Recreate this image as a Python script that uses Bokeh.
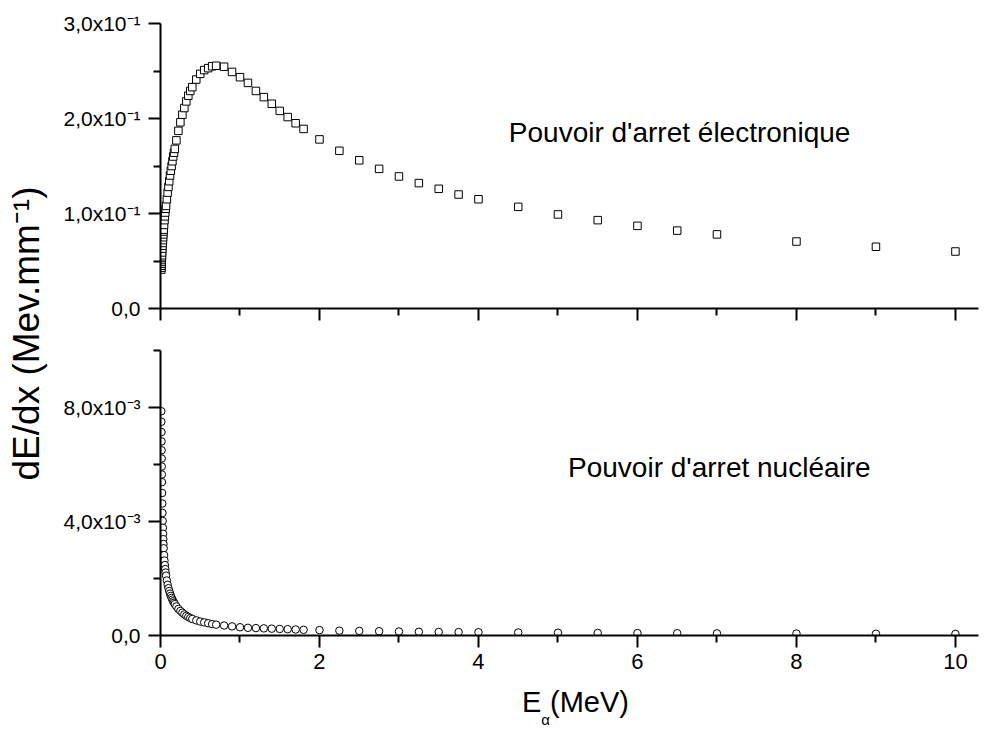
import math

from bokeh.embed import file_html
from bokeh.layouts import column, row
from bokeh.models import Div, FixedTicker, Label, Range1d
from bokeh.plotting import figure
from bokeh.resources import INLINE

# Alpha-particle energy grid (MeV)
energy_mev = [
    0.010, 0.011, 0.012, 0.013, 0.014, 0.015, 0.016, 0.017, 0.018,
    0.020, 0.0225, 0.025, 0.0275, 0.030, 0.0325, 0.035, 0.0375, 0.040,
    0.045, 0.050, 0.055, 0.060, 0.065, 0.070, 0.080, 0.090,
    0.100, 0.110, 0.120, 0.130, 0.140, 0.150, 0.160, 0.170, 0.180,
    0.200, 0.225, 0.250, 0.275, 0.300, 0.325, 0.350, 0.375, 0.400,
    0.450, 0.500, 0.550, 0.600, 0.650, 0.700, 0.800, 0.900,
    1.0, 1.1, 1.2, 1.3, 1.4, 1.5, 1.6, 1.7, 1.8,
    2.0, 2.25, 2.5, 2.75, 3.0, 3.25, 3.5, 3.75, 4.0,
    4.5, 5.0, 5.5, 6.0, 6.5, 7.0, 8.0, 9.0, 10.0,
]

# Electronic stopping power (MeV/mm)
s_electronic = [
    0.041, 0.043, 0.045, 0.047, 0.049, 0.051, 0.053, 0.054, 0.056,
    0.059, 0.063, 0.066, 0.069, 0.072, 0.075, 0.078, 0.081, 0.083,
    0.088, 0.093, 0.097, 0.101, 0.105, 0.108, 0.115, 0.122,
    0.128, 0.134, 0.140, 0.145, 0.150, 0.155, 0.160, 0.164, 0.168,
    0.177, 0.187, 0.196, 0.204, 0.211, 0.218, 0.224, 0.229, 0.233,
    0.241, 0.247, 0.251, 0.253, 0.255, 0.2555, 0.2545, 0.249,
    0.2435, 0.2375, 0.229, 0.2225, 0.2155, 0.208, 0.2015, 0.195, 0.189,
    0.178, 0.166, 0.156, 0.147, 0.139, 0.132, 0.126, 0.120, 0.115,
    0.107, 0.099, 0.093, 0.087, 0.082, 0.078, 0.0705, 0.065, 0.060,
]

# Nuclear stopping power (MeV/mm)
s_nuclear = [
    0.00787, 0.00750, 0.00714, 0.00681, 0.00650, 0.00621, 0.00593, 0.00565, 0.00538,
    0.00500, 0.00463, 0.00430, 0.00402, 0.00378, 0.00357, 0.00338, 0.00321, 0.00306,
    0.00282, 0.00263, 0.00247, 0.00233, 0.00221, 0.00210, 0.00193, 0.00178,
    0.00166, 0.00156, 0.00147, 0.00139, 0.00132, 0.00126, 0.00120, 0.00115, 0.00110,
    0.00102, 0.00093, 0.00086, 0.00080, 0.00074, 0.00069, 0.00065, 0.00061, 0.00058,
    0.00053, 0.00049, 0.00046, 0.00043, 0.00040, 0.00038, 0.00035, 0.00032,
    0.00029, 0.00027, 0.00026, 0.00025, 0.00024, 0.00023, 0.00022, 0.00021, 0.00020,
    0.00019, 0.00017, 0.00016, 0.00015, 0.00014, 0.00013, 0.000125, 0.00012, 0.000115,
    0.000105, 0.000097, 0.00009, 0.000084, 0.000079, 0.000075, 0.000068, 0.000062, 0.000057,
]

x_ticks = [0, 2, 4, 6, 8, 10]
x_minor = [1, 3, 5, 7, 9]
x_labels = ["0", "2", "4", "6", "8", "10"]

top_ticks = [0.0, 0.1, 0.2, 0.3]
top_minor = [0.05, 0.15, 0.25]
top_labels = ["0,0", "1,0x10⁻¹", "2,0x10⁻¹", "3,0x10⁻¹"]

bottom_ticks = [0.0, 0.004, 0.008]
bottom_minor = [0.002, 0.006, 0.010]
bottom_labels = ["0,0", "4,0x10⁻³", "8,0x10⁻³"]

FONT = "Liberation Sans"
PANEL_W = 936
LEFT = 110

x_range = Range1d(0, 10.29)


def style_axes(p):
    for ax in (p.xaxis[0], p.yaxis[0]):
        ax.axis_line_width = 2
        ax.axis_line_color = "black"
        ax.major_tick_line_width = 2
        ax.minor_tick_line_width = 2
        ax.major_tick_line_color = "black"
        ax.minor_tick_line_color = "black"
        ax.major_tick_in = 0
        ax.major_tick_out = 12
        ax.minor_tick_in = 0
        ax.minor_tick_out = 7
        ax.major_label_text_font = FONT
        ax.major_label_text_color = "black"
    p.yaxis[0].major_label_text_font_size = "21px"
    p.yaxis[0].major_label_standoff = 8
    p.xaxis[0].major_label_text_font_size = "22px"
    p.xaxis[0].major_label_standoff = 6
    p.xaxis[0].ticker = FixedTicker(ticks=x_ticks, minor_ticks=x_minor)
    p.grid.visible = False
    p.outline_line_color = None


# Upper panel: electronic stopping power
p1 = figure(width=PANEL_W, height=330, x_range=x_range, y_range=Range1d(0, 0.3),
            output_backend="svg", toolbar_location=None,
            min_border_left=LEFT, min_border_right=8,
            min_border_top=23, min_border_bottom=22)
style_axes(p1)
p1.yaxis[0].ticker = FixedTicker(ticks=top_ticks, minor_ticks=top_minor)
p1.yaxis[0].major_label_overrides = dict(zip(top_ticks, top_labels))
p1.xaxis[0].major_label_overrides = {t: "" for t in x_ticks}
p1.scatter(energy_mev, s_electronic, marker="square", size=7.5,
           fill_color="white", line_color="black", line_width=1)
p1.add_layout(Label(x=6.53, y=0.185, text="Pouvoir d'arret électronique",
                    text_font=FONT, text_font_size="28px", text_color="black",
                    text_align="center", text_baseline="alphabetic"))

# Lower panel: nuclear stopping power
p2 = figure(width=PANEL_W, height=355, x_range=x_range, y_range=Range1d(0, 0.01),
            output_backend="svg", toolbar_location=None,
            min_border_left=LEFT, min_border_right=8,
            min_border_top=20, min_border_bottom=50)
style_axes(p2)
p2.yaxis[0].ticker = FixedTicker(ticks=bottom_ticks, minor_ticks=bottom_minor)
p2.yaxis[0].major_label_overrides = dict(zip(bottom_ticks, bottom_labels))
p2.xaxis[0].major_label_overrides = dict(zip(x_ticks, x_labels))
p2.scatter(energy_mev, s_nuclear, marker="circle", size=7.5,
           fill_color="white", line_color="black", line_width=1)
p2.add_layout(Label(x=7.03, y=0.0059, text="Pouvoir d'arret nucléaire",
                    text_font=FONT, text_font_size="28px", text_color="black",
                    text_align="center", text_baseline="alphabetic"))

# x-axis title: E with an alpha subscript, then the unit
x_title = Div(
    text='E<sub style="font-size:15px;vertical-align:-13px;line-height:0">α</sub>(MeV)',
    width=PANEL_W, height=40, margin=0,
    styles={"font-family": FONT, "font-size": "29px", "color": "black",
            "line-height": "29px", "padding-left": "472px", "padding-top": "3px",
            "white-space": "nowrap"},
)

# Shared y-axis title spanning both panels
y_title = figure(width=50, height=725, x_range=Range1d(0, 50), y_range=Range1d(725, 0),
                 x_axis_type=None, y_axis_type=None, output_backend="svg",
                 toolbar_location=None, min_border=0)
y_title.grid.visible = False
y_title.outline_line_color = None
y_title.add_layout(Label(x=26, y=333, text="dE/dx (Mev.mm⁻¹)", angle=math.pi / 2,
                         text_font=FONT, text_font_size="37px", text_color="black",
                         text_align="center", text_baseline="middle"))

layout = row(y_title, column(p1, p2, x_title))

with open("out.html", "w") as f:
    f.write(file_html(layout, INLINE))
